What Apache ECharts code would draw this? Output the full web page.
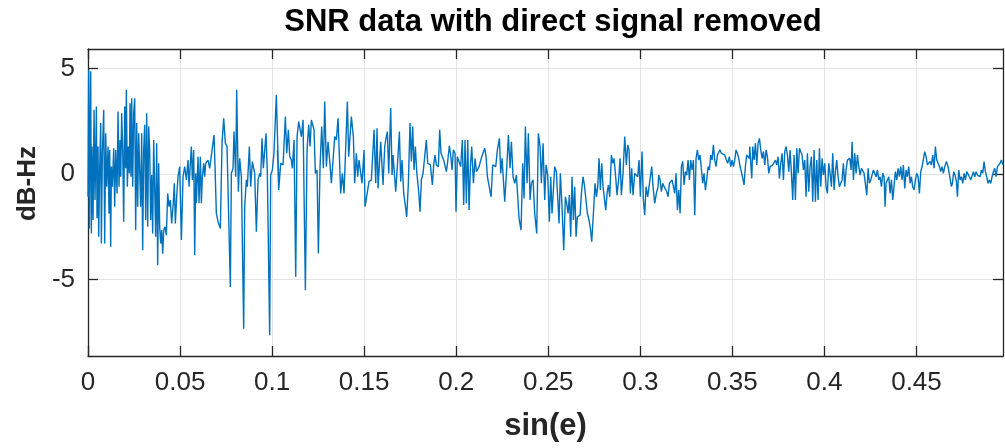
<!DOCTYPE html>
<html>
<head>
<meta charset="utf-8">
<script src="https://cdn.jsdelivr.net/npm/echarts@6/dist/echarts.min.js"></script>
<style>
  html, body { margin: 0; padding: 0; background: #fff; }
  #chart { width: 1005px; height: 448px; }
</style>
</head>
<body>
<div id="chart"></div>
<script>
// SNR residual samples, [sin(e), dB-Hz], grouped by stretch of elevation
const band1 = [
  [0.0000,-1.08],[0.00038,4.94],[0.00074,-2.58],[0.00111,1.61],[0.00147,4.86],[0.00183,-2.82],[0.00219,1.30],
  [0.00274,-2.18],[0.00328,3.04],[0.00382,-1.23],[0.00455,3.20],[0.00491,-2.10],[0.00545,1.30],[0.00581,-2.97],
  [0.00636,0.35],[0.00690,2.41],[0.00726,-3.29],[0.00780,0.98],[0.00853,3.04],[0.00907,-3.29],[0.00961,1.93],
  [0.01016,-0.60],[0.01088,1.30],[0.01142,-1.87],[0.01178,1.14],[0.01233,-3.45],[0.01269,0.35],[0.01323,-0.60],
  [0.01396,1.22],[0.01450,-1.55],[0.01504,1.14],[0.01577,-0.92],[0.01631,2.96],[0.01685,-0.60],[0.01740,1.61],
  [0.01776,-0.13],[0.01830,2.88],[0.01884,1.14],[0.01939,-2.26],[0.01993,3.20],[0.02047,0.27],[0.02083,3.99],
  [0.02138,-0.60],[0.02192,1.30],[0.02246,0.03],[0.02282,3.35],[0.02337,-0.13],[0.02373,3.59],[0.02427,-0.60],
  [0.02481,2.88],[0.02536,3.59],[0.02590,-2.66],[0.02644,2.41],[0.02699,-1.55],[0.02753,1.93],[0.02807,1.93],
  [0.02862,-1.55],[0.02916,1.93],[0.02970,-3.61],[0.03025,1.14],[0.03079,2.33],[0.03133,-2.18],[0.03188,2.88],
  [0.03242,-2.50],[0.03296,2.25],[0.03351,1.14],[0.03405,-2.18],[0.03459,-0.05],[0.03513,-2.82],[0.03568,1.61],
  [0.03622,1.69],[0.03676,-2.97],[0.03731,1.46],[0.03785,-4.32],[0.03839,0.51],[0.03894,-2.50],[0.03948,-3.29],
  [0.04002,-2.66],[0.04057,-3.77],[0.04111,-2.66],[0.04183,-2.50],[0.04256,-2.90],[0.04328,-0.92],[0.04400,-1.55],
  [0.04473,-1.23],[0.04545,-2.34],[0.04617,-1.55],[0.04690,-0.44],[0.04744,-2.34],[0.04817,-1.08],[0.04889,-0.13]
];
const band2 = [
  [0.04981,0.35],[0.05072,-3.13],[0.05162,-0.13],[0.05253,0.35],[0.05343,-0.28],[0.05434,0.66],[0.05488,-0.60],
  [0.05560,0.51],[0.05615,1.30],[0.05669,-0.28],[0.05741,1.14],[0.05796,-3.84],[0.05850,0.03],[0.05886,-1.39],
  [0.05977,0.82],[0.06031,-1.39],[0.06103,0.82],[0.06158,-1.39],[0.06212,-0.13],[0.06284,0.51],[0.06339,-0.13],
  [0.06393,0.51],[0.06520,0.66],[0.06610,0.27],[0.06701,0.35],[0.06845,1.85],[0.06900,0.35],[0.06972,-1.87],
  [0.07063,-2.26],[0.07117,-2.18],[0.07189,-2.58],[0.07280,1.46],[0.07370,2.64],[0.07461,1.46],[0.07551,1.30],
  [0.07732,-5.35],[0.07787,0.03],[0.07877,0.27],[0.07931,2.01],[0.08022,-0.13],[0.08076,3.99],[0.08167,-0.84],
  [0.08239,0.74],[0.08330,-0.13],[0.08456,-7.33],[0.08511,-1.55],[0.08601,-0.28],[0.08655,-0.60],[0.08764,1.30],
  [0.08836,-0.60],[0.08927,0.59],[0.09054,0.03],[0.09144,-2.74],[0.09235,-0.28],[0.09325,0.03],[0.09379,-0.13],
  [0.09452,1.69],[0.09524,0.27],[0.09669,1.93],[0.09741,0.03],[0.09868,-7.64],[0.09922,-0.05],[0.10013,0.19],
  [0.10103,0.98],[0.10176,1.06],[0.10230,3.75],[0.10357,-0.28]
];
const band3 = [
  [0.10287,1.14],[0.10359,-0.76],[0.10468,0.51],[0.10595,0.43],[0.10721,2.72],[0.10794,0.98],[0.10884,2.09],
  [0.10957,0.82],[0.11047,0.66],[0.11101,0.27],[0.11192,1.61],[0.11282,-4.87],[0.11355,1.77],[0.11445,2.48],
  [0.11536,2.41],[0.11590,1.77],[0.11681,2.56],[0.11807,-5.51],[0.11898,1.14],[0.11988,2.33],[0.12061,1.30],
  [0.12133,2.56],[0.12278,2.09],[0.12350,0.03],[0.12441,0.19],[0.12513,-3.77],[0.12604,0.35],[0.12694,2.25],
  [0.12785,0.27],[0.12857,3.43],[0.12948,0.35],[0.13038,1.53],[0.13147,0.43],[0.13219,-0.44],[0.13310,0.66],
  [0.13400,1.77],[0.13491,1.61],[0.13581,2.64],[0.13726,-0.92],[0.13816,0.03],[0.13907,-0.92],[0.14088,3.43],
  [0.14160,0.82],[0.14233,0.74],[0.14305,2.72],[0.14414,1.77],[0.14486,-0.44],[0.14577,0.98],[0.14649,-0.13],
  [0.14721,0.66],[0.14794,0.66],[0.14884,-0.44],[0.14993,1.14],[0.15047,-1.55],[0.15138,-1.47],[0.15265,-0.36],
  [0.15391,-0.28],[0.15536,2.09]
];
const band4 = [
  [0.15628,-0.44],[0.15700,2.17],[0.15755,-0.68],[0.15827,-0.76],[0.15899,1.53],[0.15972,0.35],[0.16026,-0.52],
  [0.16117,1.30],[0.16171,1.61],[0.16261,2.01],[0.16334,0.03],[0.16388,-0.05],[0.16442,3.12],[0.16515,-0.05],
  [0.16569,0.90],[0.16641,0.98],[0.16714,-0.84],[0.16841,0.90],[0.16913,2.01],[0.16985,-0.36],[0.17058,0.66],
  [0.17148,-0.92],[0.17221,-1.39],[0.17311,-2.03],[0.17402,-0.44],[0.17492,2.41],[0.17565,0.59],[0.17637,2.25],
  [0.17709,0.19],[0.17782,1.30],[0.17854,0.11],[0.17963,-0.84],[0.18035,-1.79],[0.18108,-0.28],[0.18198,0.03],
  [0.18270,0.66],[0.18379,1.61],[0.18451,0.51],[0.18524,0.51],[0.18596,0.43],[0.18705,-0.52],[0.18777,0.43],
  [0.18850,0.90],[0.18922,0.43],[0.19031,0.35],[0.19103,2.09],[0.19175,0.98],[0.19248,0.82],[0.19320,0.66],
  [0.19393,0.74],[0.19465,0.11],[0.19537,0.59],[0.19628,1.33],[0.19700,0.90],[0.19773,0.19],[0.19845,1.14],
  [0.19936,0.98],[0.19990,-1.79],[0.20062,0.82],[0.20153,0.82],[0.20243,0.35],[0.20334,1.61],[0.20406,-1.47],
  [0.20479,1.61],[0.20551,-1.39]
];
const band5 = [
  [0.20626,1.61],[0.20698,-1.71],[0.20771,0.35],[0.20843,1.30],[0.20934,-0.44],[0.21024,0.74],[0.21097,0.11],
  [0.21169,0.03],[0.21241,0.35],[0.21314,0.27],[0.21386,0.82],[0.21459,0.74],[0.21549,1.22],[0.21621,0.82],
  [0.21694,-0.13],[0.21784,-0.05],[0.21893,-1.08],[0.21983,0.43],[0.22056,0.43],[0.22146,0.35],[0.22237,1.14],
  [0.22345,1.69],[0.22418,0.03],[0.22490,0.74],[0.22563,-0.28],[0.22635,-1.31],[0.22744,0.27],[0.22834,1.85],
  [0.22925,0.27],[0.22997,1.53],[0.23088,-0.13],[0.23178,-0.44],[0.23269,-0.05],[0.23359,-0.13],[0.23413,-2.10],
  [0.23522,-2.66],[0.23612,0.51],[0.23685,-1.16],[0.23757,2.25],[0.23848,-0.44],[0.23920,1.93],[0.24011,-1.23],
  [0.24083,-0.44],[0.24174,-0.28],[0.24264,-1.87],[0.24373,-2.82],[0.24463,1.93],[0.24554,1.30],[0.24626,-0.44],
  [0.24717,1.46],[0.24807,-1.23],[0.24879,0.43],[0.24970,-0.05],[0.25060,-2.26],[0.25133,-0.13],[0.25205,-1.87],
  [0.25277,-1.87],[0.25350,0.35],[0.25440,0.11],[0.25513,0.03],[0.25585,-2.34],[0.25657,0.03],[0.25748,-1.55]
];
const band6 = [
  [0.25840,-3.61],[0.25931,-1.08],[0.26003,-1.39],[0.26076,-1.87],[0.26148,-1.00],[0.26220,-2.97],[0.26293,-0.13],
  [0.26365,-2.18],[0.26438,-0.60],[0.26510,-2.97],[0.26582,-2.03],[0.26655,-2.10],[0.26727,-1.95],[0.26800,-0.92],
  [0.26890,-0.13],[0.26962,-0.52],[0.27053,-0.52],[0.27125,-1.87],[0.27216,-2.18],[0.27288,-2.58],[0.27361,-3.21],
  [0.27451,-1.87],[0.27542,-0.44],[0.27614,-1.08],[0.27686,-0.60],[0.27759,0.74],[0.27831,-0.76],[0.27904,0.51],
  [0.27976,-0.60],[0.28048,-0.60],[0.28121,-1.71],[0.28193,-0.92],[0.28266,-0.52],[0.28338,-1.08],[0.28429,0.90],
  [0.28501,0.51],[0.28573,0.74],[0.28646,0.03],[0.28736,-1.00],[0.28827,-0.21],[0.28899,0.74],[0.28972,-1.00],
  [0.29062,0.03],[0.29153,1.77],[0.29243,0.43],[0.29315,1.38],[0.29388,1.14],[0.29460,-0.92],[0.29533,0.27],
  [0.29605,-1.00],[0.29696,0.03],[0.29786,0.11],[0.29858,-0.13],[0.29931,0.66],[0.30003,-1.08],[0.30094,1.06],
  [0.30166,-1.23],[0.30239,-1.95],[0.30311,-0.60],[0.30401,-1.08],[0.30474,-0.60],[0.30546,-0.13],[0.30619,0.35],
  [0.30691,-0.60],[0.30782,-1.39],[0.30872,-0.92],[0.30963,-0.60]
];
const band7 = [
  [0.30999,-0.05],[0.31074,-0.28],[0.31146,-0.84],[0.31218,-0.44],[0.31291,-0.60],[0.31363,-0.68],[0.31436,-0.84],
  [0.31508,-1.08],[0.31580,-0.44],[0.31653,-0.52],[0.31725,-0.28],[0.31798,-0.60],[0.31870,-0.92],[0.31942,0.03],
  [0.32015,-1.71],[0.32087,-0.76],[0.32160,-1.87],[0.32232,0.35],[0.32304,0.59],[0.32377,-0.52],[0.32449,0.11],
  [0.32522,-0.05],[0.32594,0.66],[0.32666,-0.28],[0.32739,0.66],[0.32811,0.19],[0.32884,0.66],[0.32956,-1.95],
  [0.33028,0.74],[0.33101,1.14],[0.33173,0.66],[0.33246,0.90],[0.33318,0.82],[0.33390,-0.44],[0.33463,0.03],
  [0.33535,-0.76],[0.33608,-0.28],[0.33680,0.35],[0.33752,0.19],[0.33825,0.90],[0.33897,0.66],[0.33970,1.38],
  [0.34042,0.66],[0.34114,0.35],[0.34187,0.90],[0.34259,0.98],[0.34332,1.14],[0.34404,0.98],[0.34495,1.06],
  [0.34585,0.90],[0.34676,0.66],[0.34748,0.51],[0.34838,0.82],[0.34911,0.35],[0.34983,0.66],[0.35056,0.35],
  [0.35128,0.66],[0.35200,1.14],[0.35273,0.98],[0.35345,0.74],[0.35418,0.35],[0.35490,0.11],[0.35581,-0.28],
  [0.35635,-0.52],[0.35707,0.35],[0.35780,0.90],[0.35852,0.82],[0.35924,0.74]
];
const band8 = [
  [0.35945,1.30],[0.35999,0.51],[0.36054,-0.21],[0.36108,1.30],[0.36180,0.66],[0.36253,1.46],[0.36325,0.43],
  [0.36398,1.46],[0.36470,1.69],[0.36542,1.14],[0.36615,0.74],[0.36687,1.06],[0.36760,0.43],[0.36832,1.14],
  [0.36904,0.82],[0.36977,0.03],[0.37049,0.35],[0.37122,0.27],[0.37194,0.43],[0.37266,0.51],[0.37339,0.66],
  [0.37411,0.43],[0.37484,0.82],[0.37556,-0.21],[0.37628,0.51],[0.37701,0.98],[0.37773,-0.28],[0.37846,1.06],
  [0.37918,1.30],[0.37990,0.90],[0.38063,0.11],[0.38135,1.14],[0.38208,0.03],[0.38280,-1.23],[0.38352,0.90],
  [0.38425,-1.23],[0.38497,1.22],[0.38570,0.03],[0.38642,1.22],[0.38714,1.14],[0.38787,0.90],[0.38859,0.19],
  [0.38932,0.66],[0.39004,-1.08],[0.39076,0.98],[0.39149,-0.84],[0.39221,0.35],[0.39294,0.82],[0.39366,-1.31],
  [0.39438,1.14],[0.39511,-1.31],[0.39583,0.66],[0.39656,-1.23],[0.39728,1.22],[0.39800,-0.60],[0.39873,0.74],
  [0.39945,-0.05],[0.40018,0.51],[0.40090,-0.60],[0.40162,-0.92],[0.40235,0.51],[0.40307,0.03],[0.40380,-0.60],
  [0.40452,0.98],[0.40524,-0.76],[0.40597,0.11],[0.40669,0.66],[0.40742,-0.13],[0.40814,-0.60],[0.40886,-0.60],
  [0.40959,-0.28],[0.41031,0.51],[0.41104,-0.60],[0.41176,0.19],[0.41249,0.66]
];
const band9 = [
  [0.41377,0.74],[0.41449,0.19],[0.41503,1.53],[0.41576,-0.28],[0.41648,0.98],[0.41720,0.03],[0.41793,0.90],
  [0.41865,0.35],[0.41938,-0.05],[0.42010,0.27],[0.42082,0.35],[0.42155,0.03],[0.42227,0.11],[0.42300,-1.00],
  [0.42372,0.27],[0.42444,-0.44],[0.42517,-0.28],[0.42589,-0.36],[0.42662,0.19],[0.42734,0.11],[0.42806,-0.13],
  [0.42879,0.19],[0.42951,-0.28],[0.43024,-0.13],[0.43096,-0.60],[0.43168,0.03],[0.43241,-0.13],[0.43295,-1.55],
  [0.43349,-0.44],[0.43422,-0.28],[0.43494,-0.13],[0.43567,-0.92],[0.43639,-0.28],[0.43711,-1.23],[0.43784,-1.23],
  [0.43856,0.11],[0.43929,-0.28],[0.44001,0.27],[0.44073,-0.13],[0.44146,0.35],[0.44218,-0.28],[0.44291,0.43],
  [0.44363,-0.68],[0.44435,0.19],[0.44508,-0.13],[0.44580,0.35],[0.44653,-0.44],[0.44725,-0.13],[0.44797,-0.60],
  [0.44870,-0.76],[0.44942,-0.28],[0.45015,0.03],[0.45087,-0.13],[0.45159,-0.92],[0.45232,0.11],[0.45304,0.35],
  [0.45377,0.43],[0.45449,1.06],[0.45521,0.82],[0.45594,0.43],[0.45666,0.35],[0.45739,0.59],[0.45811,0.43],
  [0.45883,0.90],[0.45956,0.27],[0.46028,1.30],[0.46101,0.66],[0.46173,0.51],[0.46245,0.35],[0.46318,0.11],
  [0.46390,0.35],[0.46463,0.03]
];
const band10 = [
  [0.46536,0.35],[0.46627,0.59],[0.46717,0.35],[0.46808,-0.13],[0.46898,-0.60],[0.46952,-0.44],[0.47025,0.11],
  [0.47097,-0.05],[0.47170,-0.36],[0.47224,-1.08],[0.47296,0.19],[0.47369,-0.28],[0.47441,-0.13],[0.47513,-0.44],
  [0.47586,0.03],[0.47658,-0.28],[0.47731,0.11],[0.47803,0.03],[0.47875,-0.13],[0.47948,-0.28],[0.48020,-0.36],
  [0.48093,0.11],[0.48165,-0.13],[0.48237,0.11],[0.48310,-0.05],[0.48382,0.03],[0.48455,-0.13],[0.48527,0.19],
  [0.48599,0.03],[0.48672,0.59],[0.48744,0.11],[0.48817,-0.13],[0.48889,-0.44],[0.48961,-0.28],[0.49034,-0.44],
  [0.49106,-0.13],[0.49179,0.11],[0.49251,0.27],[0.49323,-0.13],[0.49396,0.35],[0.49468,0.43],[0.49541,0.51],
  [0.49613,0.66],[0.49700,0.43]
];

const xTicks = [0, 0.05, 0.1, 0.15, 0.2, 0.25, 0.3, 0.35, 0.4, 0.45];
const yTicks = [-5, 0, 5];
const xRange = [0, 0.497];
const yRange = [-8.62, 5.92];

const samples = [].concat(band1, band2, band3, band4, band5, band6, band7, band8, band9, band10);

const FONT = '"Liberation Sans", Arial, Helvetica, sans-serif';
const AXIS_COLOR = '#262626';
const GRID_COLOR = '#e3e3e3';

const chart = echarts.init(document.getElementById('chart'), null, { renderer: 'canvas' });

const boxLine = { show: true, onZero: false, lineStyle: { color: AXIS_COLOR, width: 1.3 } };
const innerTick = (values) => ({
  show: true, inside: true, length: 10, customValues: values,
  lineStyle: { color: AXIS_COLOR, width: 1.3 }
});

chart.setOption({
  animation: false,
  backgroundColor: '#ffffff',
  title: {
    text: 'SNR data with direct signal removed',
    left: 548, top: 2, textAlign: 'center',
    textStyle: { fontFamily: FONT, fontSize: 31, fontWeight: 'bold', color: '#000' }
  },
  grid: { left: 88, right: 2, top: 49, bottom: 92, containLabel: false },
  xAxis: [
    {
      type: 'value', position: 'bottom', min: xRange[0], max: xRange[1],
      name: 'sin(e)', nameLocation: 'middle', nameGap: 55,
      nameTextStyle: { fontFamily: FONT, fontSize: 31, fontWeight: 'bold', color: AXIS_COLOR },
      axisLine: boxLine,
      axisTick: innerTick(xTicks),
      axisLabel: {
        customValues: xTicks, margin: 14, color: AXIS_COLOR, fontFamily: FONT, fontSize: 26,
        formatter: (v) => String(+v.toFixed(2))
      },
      splitLine: { show: true, lineStyle: { color: GRID_COLOR, width: 1 } }
    },
    {
      type: 'value', position: 'top', min: xRange[0], max: xRange[1],
      axisLine: boxLine,
      axisTick: innerTick(xTicks),
      axisLabel: { show: false },
      splitLine: { show: false }
    }
  ],
  yAxis: [
    {
      type: 'value', position: 'left', min: yRange[0], max: yRange[1],
      name: 'dB-Hz', nameLocation: 'middle', nameGap: 46, nameRotate: 90,
      nameTextStyle: {
        fontFamily: FONT, fontSize: 26, fontWeight: 'bold', color: AXIS_COLOR,
        padding: [0, 0, 0, 38]
      },
      axisLine: boxLine,
      axisTick: innerTick(yTicks),
      axisLabel: { customValues: yTicks, margin: 13, color: AXIS_COLOR, fontFamily: FONT, fontSize: 26 },
      splitLine: { show: true, lineStyle: { color: GRID_COLOR, width: 1 } }
    },
    {
      type: 'value', position: 'right', min: yRange[0], max: yRange[1],
      axisLine: boxLine,
      axisTick: innerTick(yTicks),
      axisLabel: { show: false },
      splitLine: { show: false }
    }
  ],
  series: [
    {
      type: 'line', xAxisIndex: 0, yAxisIndex: 0,
      data: samples,
      showSymbol: false, symbol: 'none',
      lineStyle: { color: '#0072BD', width: 1.4 },
      clip: true, z: 3
    }
  ]
});
</script>
</body>
</html>
